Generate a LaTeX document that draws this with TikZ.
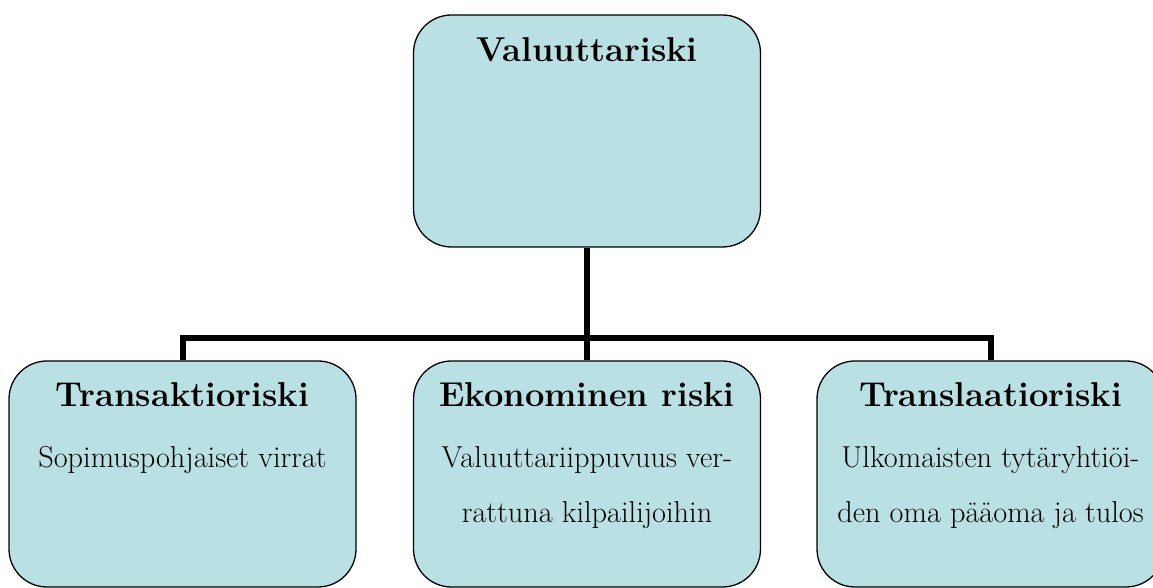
\documentclass[tikz,border=0pt]{standalone}
\usepackage{fontspec}
\definecolor{boxfill}{HTML}{B9E0E3}
\begin{document}
\begin{tikzpicture}[x=1pt,y=1pt,
  riskbox/.style={draw=black, line width=1.3pt, fill=boxfill, rounded corners=38pt,
    rectangle, inner sep=0pt, minimum width=347pt},
  titletext/.style={anchor=base, inner sep=0pt, font=\fontsize{34.5}{40}\selectfont\bfseries},
  subtext/.style={anchor=base, inner sep=0pt, font=\fontsize{30.3}{36}\selectfont},
  connector/.style={draw=black, line width=6pt}]
\useasboundingbox (0,0) rectangle (1153,588);
% boxes
\node[riskbox, minimum height=232pt] (top) at (587,457) {};
\node[riskbox, minimum height=226pt] (left) at (182.5,114) {};
\node[riskbox, minimum height=226pt] (mid) at (587,114) {};
\node[riskbox, minimum height=226pt] (right) at (990.5,114) {};
% connectors
\coordinate (junction) at (587,250);
\draw[connector] (top.south) -- (junction);
\draw[connector] (left.north) |- (junction) -| (right.north);
\draw[connector] (junction) -- (mid.north);
% texts
\node[titletext] (ttop) at (587,526) {Valuuttariski};
\node[titletext] (tleft) at (182.5,181) {Transaktioriski};
\node[titletext] (tmid) at (587,181) {Ekonominen riski};
\node[titletext] (tright) at (990.5,181) {Translaatioriski};
\node[subtext] (sleft) at (182.5,120) {Sopimuspohjaiset virrat};
\node[subtext] (smid1) at (587,120) {Valuuttariippuvuus ver-};
\node[subtext] (smid2) at (587,65) {rattuna kilpailijoihin};
\node[subtext] (sright1) at (990.5,120) {Ulkomaisten tytäryhtiöi-};
\node[subtext] (sright2) at (990.5,65) {den oma pääoma ja tulos};
\end{tikzpicture}
\end{document}
